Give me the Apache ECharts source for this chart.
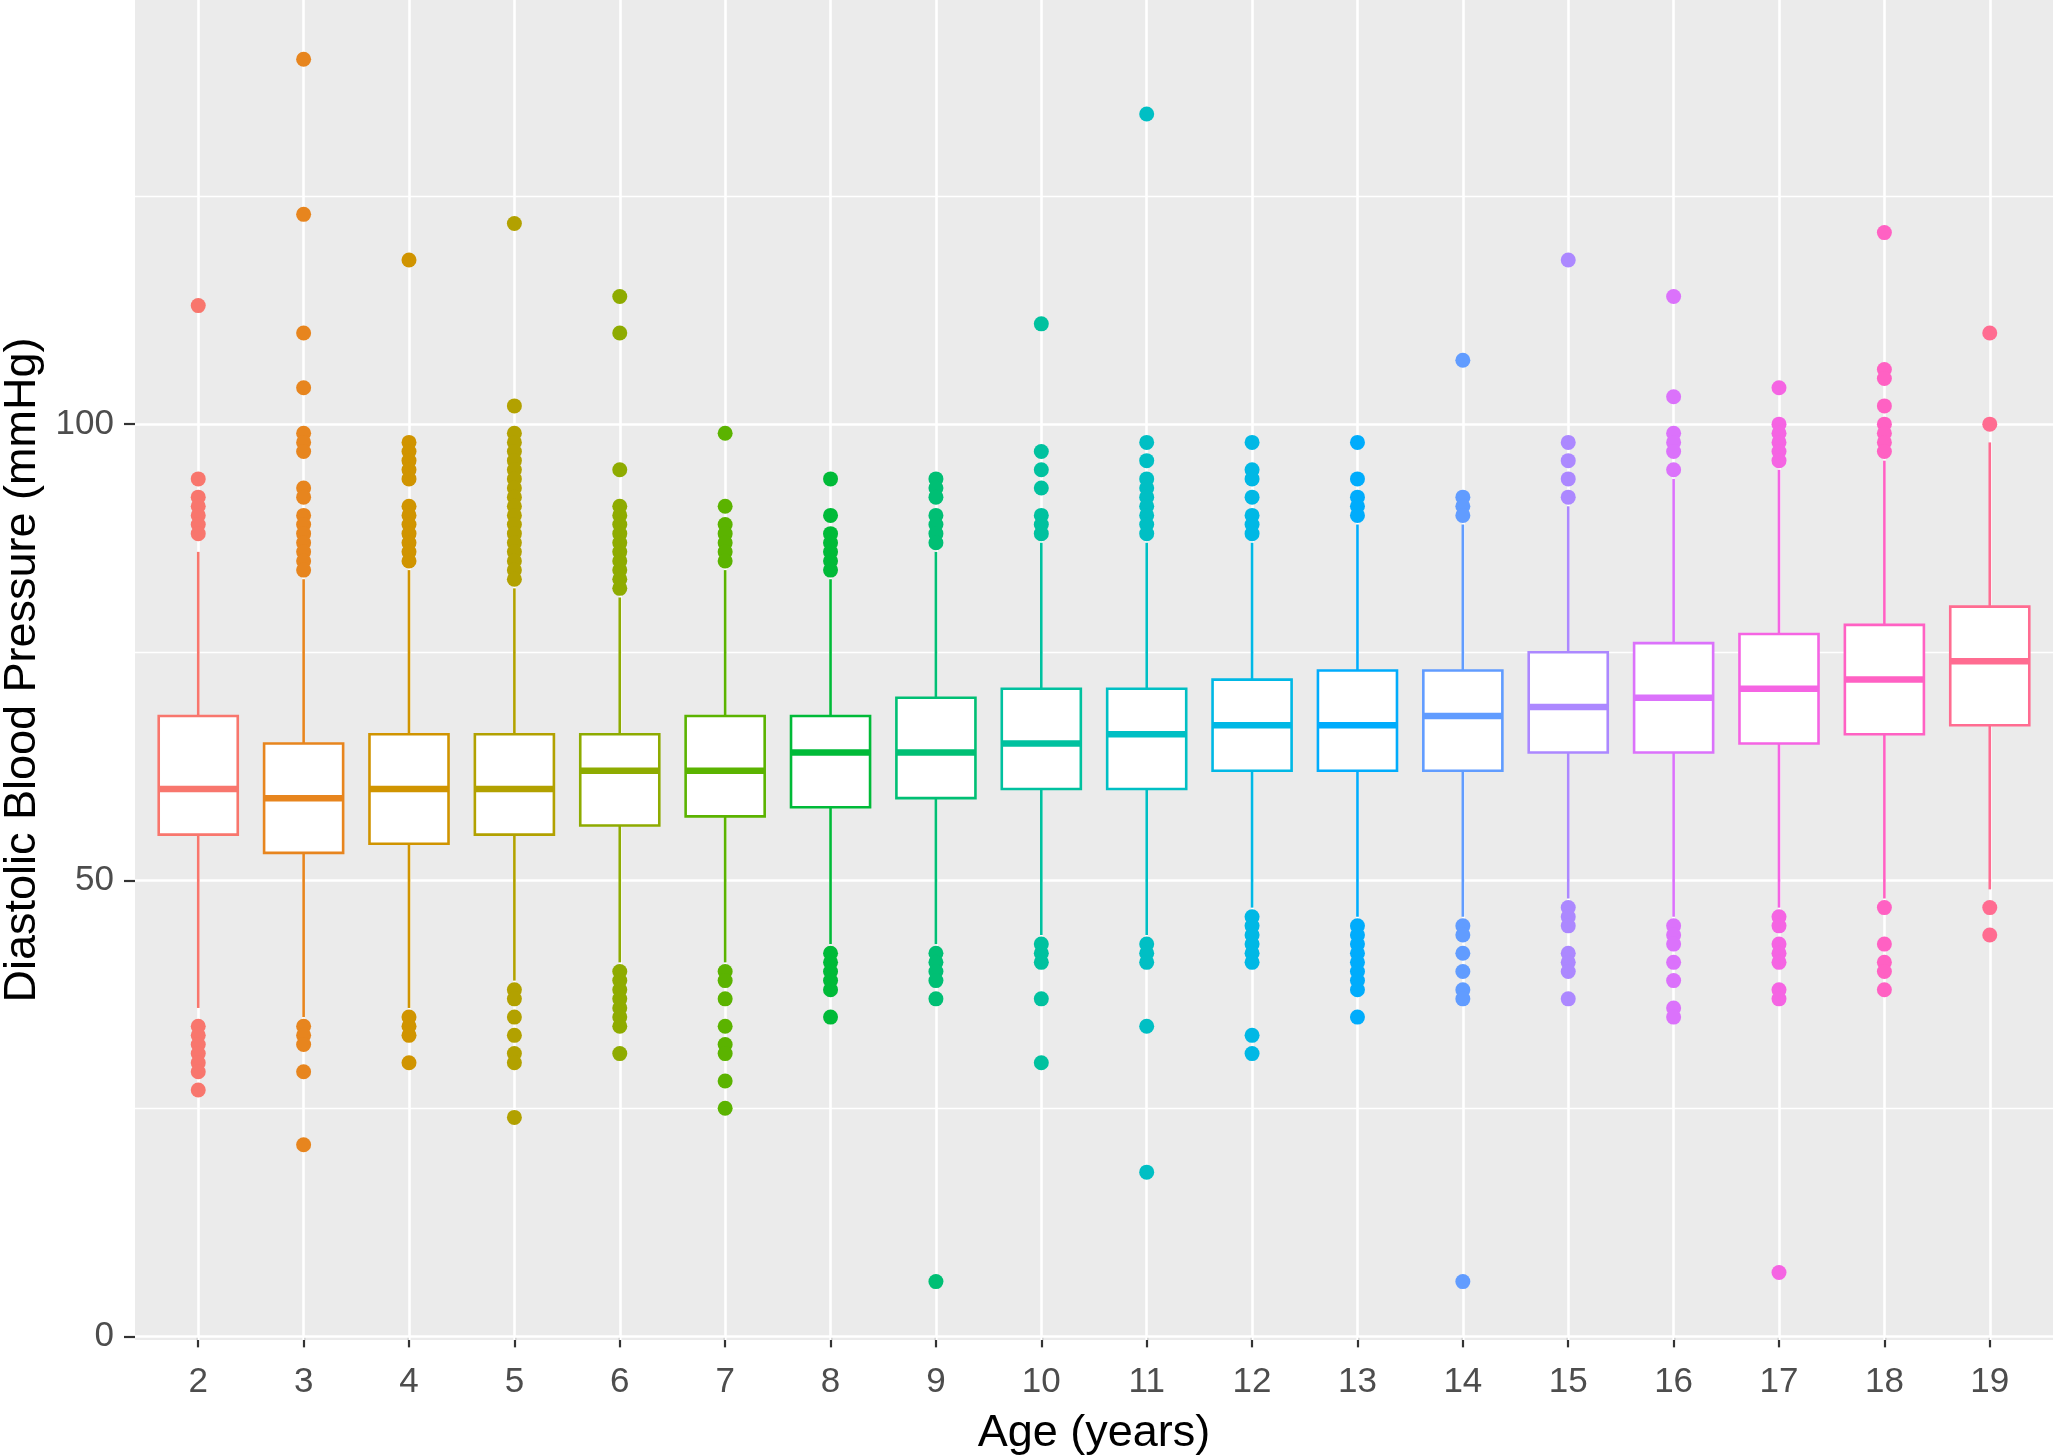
<!DOCTYPE html>
<html>
<head>
<meta charset="utf-8">
<script src="https://cdn.jsdelivr.net/npm/echarts@6/dist/echarts.min.js"></script>
<style>
html,body{margin:0;padding:0;background:#ffffff;}
#chart{width:2053px;height:1456px;}
</style>
</head>
<body>
<div id="chart"></div>
<script>
// ---------- data ----------
const ages = [2,3,4,5,6,7,8,9,10,11,12,13,14,15,16,17,18,19];
const whiskerLow  = [36,35,36,39,41,41,43,43,44,44,47,46,46,48,46,47,48,49];
const q1          = [55,53,54,55,56,57,58,59,60,60,62,62,62,64,64,65,66,67];
const median      = [60,59,60,60,62,62,64,64,65,66,67,67,68,69,70,71,72,74];
const q3          = [68,65,66,66,66,68,68,70,71,71,72,73,73,75,76,77,78,80];
const whiskerHigh = [86,83,84,82,81,84,83,86,87,87,87,89,89,91,94,95,96,98];
const outliers = [
  [113,94,92,91,90,89,88, 34,33,32,31,30,29,27],
  [140,123,110,104,99,98,97,93,92,90,89,88,87,86,85,84, 34,33,32,29,21],
  [118,98,97,96,95,94,91,90,89,88,87,86,85, 35,34,33,30],
  [122,102,99,98,97,96,95,94,93,92,91,90,89,88,87,86,85,84,83, 38,37,35,33,31,30,24],
  [114,110,95,91,90,89,88,87,86,85,84,83,82, 40,39,38,37,36,35,34,31],
  [99,91,89,88,87,86,85, 40,39,37,34,32,31,28,25],
  [94,90,88,87,86,85,84, 42,41,40,39,38,35],
  [94,93,92,90,89,88,87, 42,41,40,39,37,6],
  [111,97,95,93,90,89,88, 43,42,41,37,30],
  [134,98,96,94,93,92,91,90,89,88, 43,42,41,34,18],
  [98,95,94,92,90,89,88, 46,45,44,43,42,41,33,31],
  [98,94,92,91,90, 45,44,43,42,41,40,39,38,35],
  [107,92,91,90, 45,44,42,40,38,37,6],
  [118,98,96,94,92, 47,46,45,42,41,40,37],
  [114,103,99,98,97,95, 45,44,43,41,39,36,35],
  [104,100,99,98,97,96, 46,45,43,42,41,38,37,7],
  [121,106,105,102,100,99,98,97, 47,43,41,40,38],
  [110,100, 47,44]
];
const yTickValues = [0, 50, 100];
const yMinorValues = [25, 75, 125];

// ---------- styles ----------
const colors = ['#F8766D','#E7851E','#D09400','#B2A100','#8EAB00','#5BB300','#00BA38','#00BF74','#00C19F',
                '#00BFC4','#00B8E5','#00ACFC','#619CFF','#AC88FF','#DB72FB','#F564E3','#FF61C3','#FF6C91'];
const FONT = '"Liberation Sans", Arial, Helvetica, sans-serif';
const BOX_WIDTH = 0.75;

const boxData = ages.map((a, i) => [a, whiskerLow[i], q1[i], median[i], q3[i], whiskerHigh[i]]);
const outlierData = [];
ages.forEach((a, i) => {
  outliers[i].forEach(v => outlierData.push({ value: [a, v], itemStyle: { color: colors[i], opacity: 1 } }));
});

const gridLines = [];
yTickValues.forEach(v => gridLines.push({ yAxis: v, lineStyle: { width: 2.6 } }));
yMinorValues.forEach(v => gridLines.push({ yAxis: v, lineStyle: { width: 1.3 } }));
ages.forEach(a => gridLines.push({ xAxis: a, lineStyle: { width: 2.6 } }));

const chart = echarts.init(document.getElementById('chart'), null, { renderer: 'canvas' });

chart.setOption({
  animation: false,
  backgroundColor: '#ffffff',
  grid: {
    left: 135, right: 0, top: 0, bottom: 116,
    show: true, backgroundColor: '#EBEBEB', borderWidth: 0, borderColor: 'transparent',
    containLabel: false, outerBoundsMode: 'none'
  },
  xAxis: {
    type: 'value', min: 1.4, max: 19.6,
    name: 'Age (years)', nameLocation: 'middle', nameGap: 71,
    nameTextStyle: { color: '#000000', fontSize: 45, fontFamily: FONT },
    axisLine: { show: false },
    axisTick: { show: true, length: 11, customValues: ages, lineStyle: { color: '#333333', width: 2.2 } },
    axisLabel: { customValues: ages, color: '#4D4D4D', fontSize: 35, fontFamily: FONT, margin: 25 },
    splitLine: { show: false }
  },
  yAxis: {
    type: 'value', min: -0.4, max: 146.5,
    name: 'Diastolic Blood Pressure (mmHg)', nameLocation: 'middle', nameGap: 88, nameRotate: 90,
    nameTextStyle: { color: '#000000', fontSize: 45, fontFamily: FONT },
    axisLine: { show: false },
    axisTick: { show: true, length: 11, customValues: yTickValues, lineStyle: { color: '#333333', width: 2.2 } },
    axisLabel: { customValues: yTickValues, color: '#4D4D4D', fontSize: 35, fontFamily: FONT, margin: 21 },
    splitLine: { show: false }
  },
  series: [
    {
      type: 'scatter',
      name: 'outliers',
      data: outlierData,
      symbol: 'circle',
      symbolSize: 15,
      itemStyle: { opacity: 1 },
      z: 2,
      silent: true,
      markLine: {
        silent: true, z: 1, animation: false,
        symbol: ['none', 'none'],
        label: { show: false },
        lineStyle: { color: '#FFFFFF', type: 'solid', width: 2.6 },
        emphasis: { disabled: true },
        data: gridLines
      }
    },
    {
      type: 'custom',
      name: 'boxes',
      data: boxData,
      z: 3,
      silent: true,
      renderItem: function (params, api) {
        const x = api.value(0);
        const lo = api.coord([x, api.value(1)]);
        const b1 = api.coord([x, api.value(2)]);
        const md = api.coord([x, api.value(3)]);
        const b3 = api.coord([x, api.value(4)]);
        const hi = api.coord([x, api.value(5)]);
        const half = api.size([BOX_WIDTH, 0])[0] / 2;
        const cx = lo[0];
        const c = colors[params.dataIndex];
        return {
          type: 'group',
          children: [
            { type: 'line', shape: { x1: cx, y1: hi[1], x2: cx, y2: b3[1] }, style: { stroke: c, lineWidth: 2.6 } },
            { type: 'line', shape: { x1: cx, y1: b1[1], x2: cx, y2: lo[1] }, style: { stroke: c, lineWidth: 2.6 } },
            { type: 'rect', shape: { x: cx - half, y: b3[1], width: 2 * half, height: b1[1] - b3[1] },
              style: { fill: '#FFFFFF', stroke: c, lineWidth: 2.6 } },
            { type: 'line', shape: { x1: cx - half, y1: md[1], x2: cx + half, y2: md[1] }, style: { stroke: c, lineWidth: 6.5 } }
          ]
        };
      }
    }
  ]
});
</script>
</body>
</html>
